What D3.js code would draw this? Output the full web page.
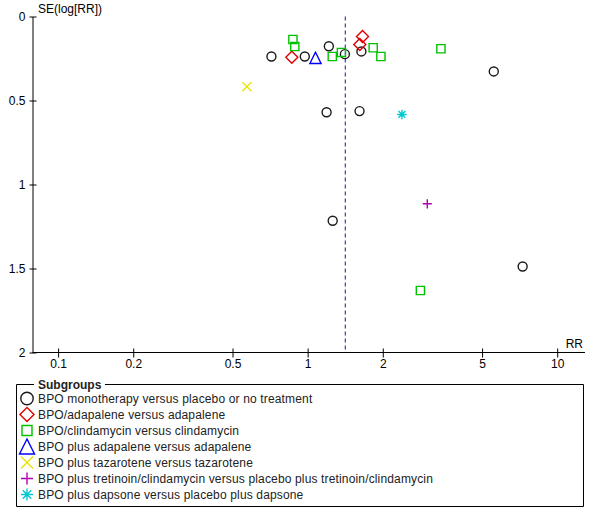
<!DOCTYPE html>
<html>
<head>
<meta charset="utf-8">
<script src="https://cdn.jsdelivr.net/npm/d3@7"></script>
<style>
  body { margin: 0; background: #fff; }
  svg { display: block; font-family: "Liberation Sans", Arial, sans-serif; font-size: 12px; }
</style>
</head>
<body>
<div id="chart"></div>
<script>
// funnel plot: RR (log) vs SE(log[RR])

const xTicks = [0.1, 0.2, 0.5, 1, 2, 5, 10];
const yTicks = [0, 0.5, 1, 1.5, 2];
const pooledRR = 1.415;

// values read per subgroup
const monoRR = [0.716, 0.974, 1.216, 1.41, 1.642, 5.57, 1.191, 1.614, 1.26, 7.27];
const monoSE = [0.238, 0.238, 0.177, 0.224, 0.208, 0.327, 0.57, 0.563, 1.216, 1.488];
const adapaleneRR = [0.864, 1.659, 1.618];
const adapaleneSE = [0.242, 0.119, 0.167];
const clindaRR = [0.873, 0.888, 1.255, 1.366, 1.831, 1.966, 3.42, 2.83];
const clindaSE = [0.137, 0.179, 0.238, 0.214, 0.186, 0.238, 0.192, 1.631];
const plusAdapRR = [1.075];
const plusAdapSE = [0.246];
const tazRR = [0.571];
const tazSE = [0.418];
const tretRR = [3.016];
const tretSE = [1.115];
const dapsoneRR = [2.386];
const dapsoneSE = [0.583];

const subgroupNames = [
  'BPO monotherapy versus placebo or no treatment',
  'BPO/adapalene versus adapalene',
  'BPO/clindamycin versus clindamycin',
  'BPO plus adapalene versus adapalene',
  'BPO plus tazarotene versus tazarotene',
  'BPO plus tretinoin/clindamycin versus placebo plus tretinoin/clindamycin',
  'BPO plus dapsone versus placebo plus dapsone'
];

// simple stroke-only shapes, s = half extent
const shapes = {
  circle: s => `M${s},0A${s},${s} 0 1,1 ${-s},0A${s},${s} 0 1,1 ${s},0Z`,
  diamond: s => `M0,${-s}L${s},0L0,${s}L${-s},0Z`,
  square: s => `M${-s},${-s}H${s}V${s}H${-s}Z`,
  triangle: s => `M0,${-s}L${s},${s}H${-s}Z`,
  cross: s => `M${-s},${-s}L${s},${s}M${-s},${s}L${s},${-s}`,
  plus: s => `M${-s},0H${s}M0,${-s}V${s}`,
  asterisk: s => {
    const c = s * 0.71;
    return `M${-s},0H${s}M0,${-s}V${s}M${-c},${-c}L${c},${c}M${-c},${c}L${c},${-c}`;
  }
};

const groups = [
  { rr: monoRR, se: monoSE, shape: 'circle', color: '#1a1a1a', size: 4.5, legSize: 6.2 },
  { rr: adapaleneRR, se: adapaleneSE, shape: 'diamond', color: '#e00000', size: 6, legSize: 7 },
  { rr: clindaRR, se: clindaSE, shape: 'square', color: '#00c000', size: 4.1, legSize: 5 },
  { rr: plusAdapRR, se: plusAdapSE, shape: 'triangle', color: '#0000ff', size: 5.6, legSize: 7.5 },
  { rr: tazRR, se: tazSE, shape: 'cross', color: '#e6e600', size: 4.6, legSize: 6 },
  { rr: tretRR, se: tretSE, shape: 'plus', color: '#b000b0', size: 4.6, legSize: 6 },
  { rr: dapsoneRR, se: dapsoneSE, shape: 'asterisk', color: '#00c8d0', size: 4.8, legSize: 6 }
];

const width = 600, height = 524;
const axisX = 32.5, axisY = 352.5;

const svg = d3.select('#chart').append('svg')
  .attr('width', width)
  .attr('height', height);

const x = d3.scaleLog().domain([0.1, 10]).range([58.1, 557.2]);
const y = d3.scaleLinear().domain([0, 2]).range([16.5, 352.5]);

// y axis
const yAxis = svg.append('g')
  .attr('transform', `translate(${axisX},0)`)
  .call(d3.axisLeft(y).tickValues(yTicks).tickSizeOuter(0).tickFormat(d3.format('')));
yAxis.select('.domain').attr('stroke', '#000');
yAxis.selectAll('.tick line').attr('x1', -3).attr('x2', 4).attr('stroke', '#000');
yAxis.selectAll('.tick text')
  .attr('x', -7).attr('dy', '0.35em')
  .attr('font-size', 12).attr('font-family', null).attr('fill', '#000');

// x axis, line runs from y axis to right edge
svg.append('line')
  .attr('x1', axisX).attr('x2', 585)
  .attr('y1', axisY).attr('y2', axisY)
  .attr('stroke', '#000');

const xAxis = svg.append('g')
  .attr('transform', `translate(0,${axisY})`)
  .call(d3.axisBottom(x).tickValues(xTicks).tickSizeOuter(0).tickFormat(d3.format('')));
xAxis.select('.domain').remove();
xAxis.selectAll('.tick line').attr('y1', -4).attr('y2', 5).attr('stroke', '#000');
xAxis.selectAll('.tick text')
  .attr('y', 15).attr('dy', 0)
  .attr('font-size', 12).attr('font-family', null).attr('fill', '#000');

// axis titles
svg.append('text')
  .attr('x', 38).attr('y', 13)
  .text('SE(log[RR])');

svg.append('text')
  .attr('x', 583).attr('y', 348)
  .attr('text-anchor', 'end')
  .text('RR');

// pooled estimate
svg.append('line')
  .attr('x1', x(pooledRR)).attr('x2', x(pooledRR))
  .attr('y1', y(0)).attr('y2', y(2) - 2)
  .attr('stroke', '#1010c8')
  .attr('stroke-dasharray', '4,3');

// study markers
groups.forEach(g => {
  svg.append('g')
    .selectAll('path')
    .data(g.rr.map((rr, i) => ({ rr, se: g.se[i] })))
    .join('path')
    .attr('transform', d => `translate(${x(d.rr)},${y(d.se)})`)
    .attr('d', shapes[g.shape](g.size))
    .attr('fill', 'none')
    .attr('stroke', g.color)
    .attr('stroke-width', 1.4);
});

// legend
const legend = svg.append('g');
legend.append('path')
  .attr('d', 'M34,384.5H16.5V506.5H583.5V384.5H105')
  .attr('fill', 'none')
  .attr('stroke', '#000');

legend.append('text')
  .attr('x', 38).attr('y', 388.5)
  .attr('font-weight', 'bold')
  .attr('fill', '#222')
  .text('Subgroups');

const rows = legend.selectAll('g.row')
  .data(groups)
  .join('g')
  .attr('class', 'row')
  .attr('transform', (d, i) => `translate(0,${398.5 + i * 16})`);

rows.append('path')
  .attr('transform', 'translate(27,0)')
  .attr('d', d => shapes[d.shape](d.legSize))
  .attr('fill', 'none')
  .attr('stroke', d => d.color)
  .attr('stroke-width', 1.4);

rows.append('text')
  .attr('x', 38)
  .attr('dy', '0.35em')
  .attr('letter-spacing', '0.15px')
  .attr('fill', '#222')
  .text((d, i) => subgroupNames[i]);
</script>
</body>
</html>
